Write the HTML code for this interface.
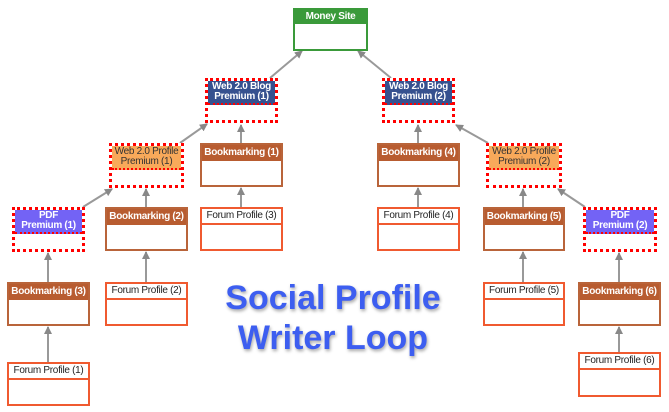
<!DOCTYPE html>
<html><head><meta charset="utf-8"><style>
body{margin:0;width:669px;height:412px;background:#fff;position:relative;overflow:hidden;font-family:"Liberation Sans",Arial,sans-serif}
.n{position:absolute;box-sizing:border-box;background:#fff}
.h{font-size:10px;letter-spacing:-0.3px;white-space:nowrap;text-align:center;line-height:10px;display:flex;align-items:center;justify-content:center;box-sizing:border-box}
.bk{border:2px solid #b9643a}.bk .h{background:#b85c30;color:#fff;font-weight:bold;height:16px}
.fp{border:2px solid #f05a30}.fp .h{color:#222;height:16px;border-bottom:2px solid #f05a30}
.dr{border:3px dotted #f00}
.blog .h{background:#36518f;color:#fff;font-weight:bold;height:24px;border-bottom:2px dotted #f00}
.w2 .h{background:#f8a95a;color:#333;height:24px;border-bottom:2px dotted #f00}
.pdf .h{background:#7363f5;color:#fff;font-weight:bold;height:24px;border-bottom:2px dotted #f00}
.ms{border:2px solid #3a9a3a}.ms .h{background:#3a9a3a;color:#fff;font-weight:bold;height:14px}
.t{position:absolute;left:150px;width:366px;text-align:center;color:#3d5ef0;font-weight:bold;font-size:34px;line-height:40px;text-shadow:1px 2px 3px rgba(0,0,0,.35)}
svg{position:absolute;left:0;top:0}
</style></head><body>
<svg width="669" height="412"><defs><marker id="a" markerWidth="8" markerHeight="8" refX="7" refY="4" orient="auto" markerUnits="userSpaceOnUse"><path d="M0,0L8,4L0,8z" fill="#888"/></marker></defs>
<g stroke="#999" stroke-width="2" marker-end="url(#a)">
<line x1="270" y1="78" x2="302" y2="51"/>
<line x1="391" y1="78" x2="358" y2="51"/>
<line x1="180" y1="143" x2="207" y2="124"/>
<line x1="241" y1="143" x2="241" y2="125"/>
<line x1="418" y1="143" x2="418" y2="125"/>
<line x1="488" y1="143" x2="456" y2="125"/>
<line x1="83" y1="207" x2="112" y2="189"/>
<line x1="146" y1="207" x2="146" y2="189"/>
<line x1="241" y1="207" x2="241" y2="188"/>
<line x1="418" y1="207" x2="418" y2="188"/>
<line x1="523" y1="207" x2="523" y2="189"/>
<line x1="585" y1="207" x2="558" y2="189"/>
<line x1="48" y1="282" x2="48" y2="253"/>
<line x1="146" y1="282" x2="146" y2="252"/>
<line x1="523" y1="282" x2="523" y2="252"/>
<line x1="619" y1="282" x2="619" y2="253"/>
<line x1="48" y1="362" x2="48" y2="327"/>
<line x1="619" y1="352" x2="619" y2="327"/>
</g></svg>
<div class="n ms" style="left:293px;top:8px;width:75px;height:43px"><div class="h">Money Site</div></div>
<div class="n dr blog" style="left:205px;top:78px;width:73px;height:45px"><div class="h">Web 2.0 Blog<br>Premium (1)</div></div>
<div class="n dr blog" style="left:382px;top:78px;width:73px;height:45px"><div class="h">Web 2.0 Blog<br>Premium (2)</div></div>
<div class="n dr w2" style="left:109px;top:143px;width:75px;height:45px"><div class="h">Web 2.0 Profile<br>Premium (1)</div></div>
<div class="n dr w2" style="left:486px;top:143px;width:76px;height:45px"><div class="h">Web 2.0 Profile<br>Premium (2)</div></div>
<div class="n bk" style="left:200px;top:143px;width:83px;height:44px"><div class="h">Bookmarking (1)</div></div>
<div class="n bk" style="left:377px;top:143px;width:83px;height:44px"><div class="h">Bookmarking (4)</div></div>
<div class="n dr pdf" style="left:12px;top:207px;width:73px;height:45px"><div class="h">PDF<br>Premium (1)</div></div>
<div class="n dr pdf" style="left:583px;top:207px;width:74px;height:45px"><div class="h">PDF<br>Premium (2)</div></div>
<div class="n bk" style="left:105px;top:207px;width:83px;height:44px"><div class="h">Bookmarking (2)</div></div>
<div class="n fp" style="left:200px;top:207px;width:83px;height:44px"><div class="h">Forum Profile (3)</div></div>
<div class="n fp" style="left:377px;top:207px;width:83px;height:44px"><div class="h">Forum Profile (4)</div></div>
<div class="n bk" style="left:483px;top:207px;width:82px;height:44px"><div class="h">Bookmarking (5)</div></div>
<div class="n bk" style="left:7px;top:282px;width:83px;height:44px"><div class="h">Bookmarking (3)</div></div>
<div class="n fp" style="left:105px;top:282px;width:83px;height:44px"><div class="h">Forum Profile (2)</div></div>
<div class="n fp" style="left:483px;top:282px;width:82px;height:44px"><div class="h">Forum Profile (5)</div></div>
<div class="n bk" style="left:578px;top:282px;width:83px;height:44px"><div class="h">Bookmarking (6)</div></div>
<div class="n fp" style="left:7px;top:362px;width:83px;height:44px"><div class="h">Forum Profile (1)</div></div>
<div class="n fp" style="left:578px;top:352px;width:83px;height:45px"><div class="h">Forum Profile (6)</div></div>
<div class="t" style="top:278px">Social Profile</div>
<div class="t" style="top:318px">Writer Loop</div>
</body></html>
